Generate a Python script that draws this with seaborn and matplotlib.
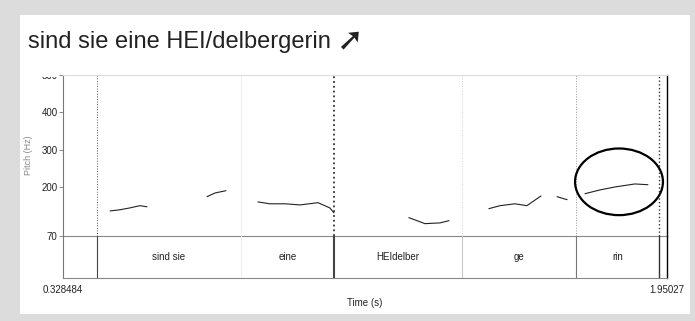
"""
Praat-style pitch track with word tier: "sind sie eine HEI/delbergerin"
"""

import matplotlib
matplotlib.use('Agg')
import matplotlib.pyplot as plt
from matplotlib.patches import Ellipse, Rectangle
from matplotlib.transforms import Bbox, TransformedBbox
import seaborn as sns
import pandas as pd

sns.set_style('white')
plt.rcParams['font.family'] = ['Liberation Sans', 'DejaVu Sans']

# --- data -------------------------------------------------------------
t_start, t_end = 0.328484, 1.95027

# pitch contour pieces (time s, pitch Hz)
seg_ids = [1] * 5 + [2] * 3 + [3] * 7 + [4] * 5 + [5] * 6 + [6] * 2 + [7] * 5
times = [0.455, 0.481, 0.508, 0.535, 0.554,
         0.715, 0.737, 0.766,
         0.852, 0.884, 0.925, 0.965, 1.013, 1.045, 1.056,
         1.257, 1.287, 1.300, 1.341, 1.365,
         1.472, 1.502, 1.542, 1.574, 1.593, 1.612,
         1.655, 1.682,
         1.730, 1.770, 1.811, 1.864, 1.899]
pitch = [137, 140, 145, 151, 148,
         175, 185, 191,
         161, 156, 156, 153, 159, 145, 132,
         119, 108, 103, 105, 111,
         143, 151, 156, 151, 164, 177,
         175, 167,
         183, 193, 201, 209, 207]

# word tier
bounds = [0.4198, 0.8064, 1.0561, 1.3998, 1.7059, 1.9288]
words = ['sind sie', 'eine', 'HEIdelber', 'ge', 'rin']

y_ticks = [70, 200, 300, 400, 500]

df = pd.DataFrame({'time': times, 'pitch': pitch, 'seg': seg_ids})

# --- figure -----------------------------------------------------------
W, H = 695, 321
fig = plt.figure(figsize=(W / 100, H / 100), dpi=100, facecolor='#dcdcdc')
panel = Rectangle((20 / W, 1 - 314 / H), 670 / W, 299 / H,
                  transform=fig.transFigure, facecolor='white',
                  edgecolor='none', zorder=-10)
fig.add_artist(panel)

x0, x1 = 63 / W, 667 / W
ax = fig.add_axes([x0, 1 - 236 / H, x1 - x0, 161 / H])
tier = fig.add_axes([x0, 1 - 278 / H, x1 - x0, 42 / H])
for a in (ax, tier):
    a.set_xlim(t_start, t_end)
    a.set_facecolor('none')
    for s in a.spines.values():
        s.set_linewidth(0.8)
    a.spines['left'].set_color('#777777')
    a.spines['right'].set_color('black')
    a.spines['right'].set_linewidth(1.0)

ax.spines['top'].set_color('#dddddd')
ax.spines['bottom'].set_color('#888888')
tier.spines['top'].set_visible(False)
tier.spines['bottom'].set_color('#888888')

sns.lineplot(data=df, x='time', y='pitch', units='seg', estimator=None,
             color='#222222', linewidth=0.8, ax=ax)
ax.set_ylim(70, 500)
ax.set_yticks(y_ticks)
ax.set_yticklabels([str(v) for v in y_ticks], fontsize=7, color='#222222')
ax.tick_params(axis='y', length=3, width=0.6, color='#777777', pad=1, left=True)
ax.set_xticks([])
ax.set_xlabel('')
ax.set_ylabel('Pitch (Hz)', fontsize=6.5, color='#888888', labelpad=6)

# top label "500" is cut off in the original
lab500 = ax.get_yticklabels()[-1]
lab500.set_clip_box(TransformedBbox(Bbox([[0, 0], [1, 1 - 77 / H]]), fig.transFigure))
lab500.set_clip_on(True)

# interval boundaries
up_style = [('#555555', ':', 0.7), ('#f0f0f0', '-', 0.8), ('#333333', ':', 1.3),
            ('#d0d0d0', ':', 0.7), ('#999999', ':', 0.7), ('#333333', ':', 1.0)]
low_style = [('#444444', '-', 0.8), ('#f0f0f0', '-', 0.8), ('#444444', '-', 1.5),
             ('#c8c8c8', '-', 0.8), ('#777777', '-', 0.8), ('#333333', '-', 1.0)]
for b, (c, ls, lw), (c2, ls2, lw2) in zip(bounds, up_style, low_style):
    ax.axvline(b, color=c, linestyle=ls, linewidth=lw, zorder=1)
    tier.axvline(b, color=c2, linestyle=ls2, linewidth=lw2)

for w, l, r in zip(words, bounds[:-1], bounds[1:]):
    tier.text((l + r) / 2, 0.5, w, ha='center', va='center', fontsize=7,
              color='#222222', transform=tier.get_xaxis_transform())

tier.set_ylim(0, 1)
tier.set_yticks([])
tier.set_xticks([t_start, t_end])
tier.set_xticklabels(['0.328484', '1.95027'], fontsize=7, color='#222222')
tier.tick_params(axis='x', length=0, pad=5)
tier.set_xlabel('Time (s)', fontsize=7, color='#222222', labelpad=2)

# circled final rise
ax.add_patch(Ellipse((1.8214, 214.7), 0.236, 178, fill=False,
                     edgecolor='black', linewidth=1.6, clip_on=False, zorder=5))

fig.text(28 / W, 1 - 42 / H, 'sind sie eine HEI/delbergerin', fontsize=17,
         va='center', ha='left', color='#222222')
fig.text(336 / W, 1 - 41 / H, '➚', fontsize=23, va='center', ha='left',
         color='#222222', fontweight='bold', family='DejaVu Sans')

fig.savefig('out.png', dpi=100, facecolor=fig.get_facecolor())
